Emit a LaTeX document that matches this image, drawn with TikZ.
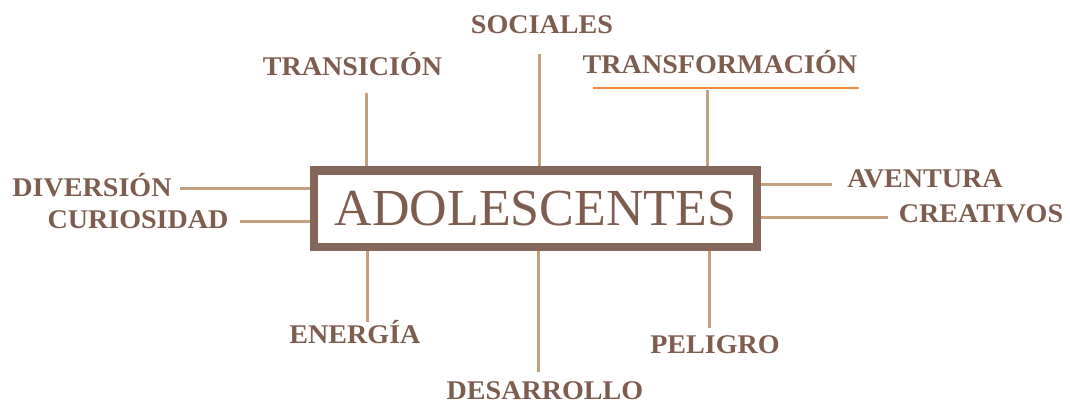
\documentclass[tikz,border=0pt]{standalone}
\usepackage{fontspec}
\setmainfont{Liberation Serif}
\newfontfamily\lblfont[FakeStretch=1.04]{Liberation Serif Bold}
\definecolor{boxbrown}{HTML}{84665A}
\definecolor{txtbrown}{HTML}{7D5D4F}
\definecolor{linetan}{HTML}{C4A07F}
\definecolor{underorange}{HTML}{F08A3C}
\tikzset{
  lbl/.style={anchor=base,inner sep=0pt,text=txtbrown,font=\lblfont\fontsize{27}{29}\selectfont},
  conn/.style={draw=linetan,line width=3pt},
}
\begin{document}
\begin{tikzpicture}[x=1pt,y=-1pt]
\useasboundingbox (0,0) rectangle (1070,407);
%%
\node (adolescentes) at (535.5,208.75) [draw=boxbrown,line width=8.5pt,rectangle,minimum width=443pt,minimum height=76.5pt,inner sep=0pt,text=txtbrown,font=\fontsize{52}{56}\selectfont] {ADOLESCENTES};
  \node (sociales) at (542,33) [lbl] {SOCIALES};
  \node (transicion) at (352.5,75) [lbl] {TRANSICIÓN};
  \node (transformacion) at (720,73) [lbl] {TRANSFORMACIÓN};
  \node (diversion) at (92,196) [lbl] {DIVERSIÓN};
  \node (curiosidad) at (138,228) [lbl] {CURIOSIDAD};
  \node (aventura) at (925,187) [lbl] {AVENTURA};
  \node (creativos) at (981,222) [lbl] {CREATIVOS};
  \node (energia) at (355,343) [lbl] {ENERGÍA};
  \node (desarrollo) at (545,399) [lbl] {DESARROLLO};
  \node (peligro) at (715,353) [lbl] {PELIGRO};
  \coordinate (sociales_end) at (539,54);
  \coordinate (transicion_end) at (366,93);
  \coordinate (transformacion_end) at (707,90);
  \coordinate (diversion_end) at (180,188);
  \coordinate (curiosidad_end) at (240,221);
  \coordinate (aventura_end) at (832,184);
  \coordinate (creativos_end) at (888,217);
  \coordinate (energia_end) at (367,322);
  \coordinate (desarrollo_end) at (538,372);
  \coordinate (peligro_end) at (709,328);
  \draw [underorange,line width=1.5pt] (593,88) -- (859,88);
  \draw [conn] (sociales_end) -- (sociales_end |- adolescentes.north);
  \draw [conn] (transicion_end) -- (transicion_end |- adolescentes.north);
  \draw [conn] (transformacion_end) -- (transformacion_end |- adolescentes.north);
  \draw [conn] (diversion_end) -- (diversion_end -| adolescentes.west);
  \draw [conn] (curiosidad_end) -- (curiosidad_end -| adolescentes.west);
  \draw [conn] (aventura_end) -- (aventura_end -| adolescentes.east);
  \draw [conn] (creativos_end) -- (creativos_end -| adolescentes.east);
  \draw [conn] (energia_end) -- (energia_end |- adolescentes.south);
  \draw [conn] (desarrollo_end) -- (desarrollo_end |- adolescentes.south);
  \draw [conn] (peligro_end) -- (peligro_end |- adolescentes.south);
%
\end{tikzpicture}
\end{document}
